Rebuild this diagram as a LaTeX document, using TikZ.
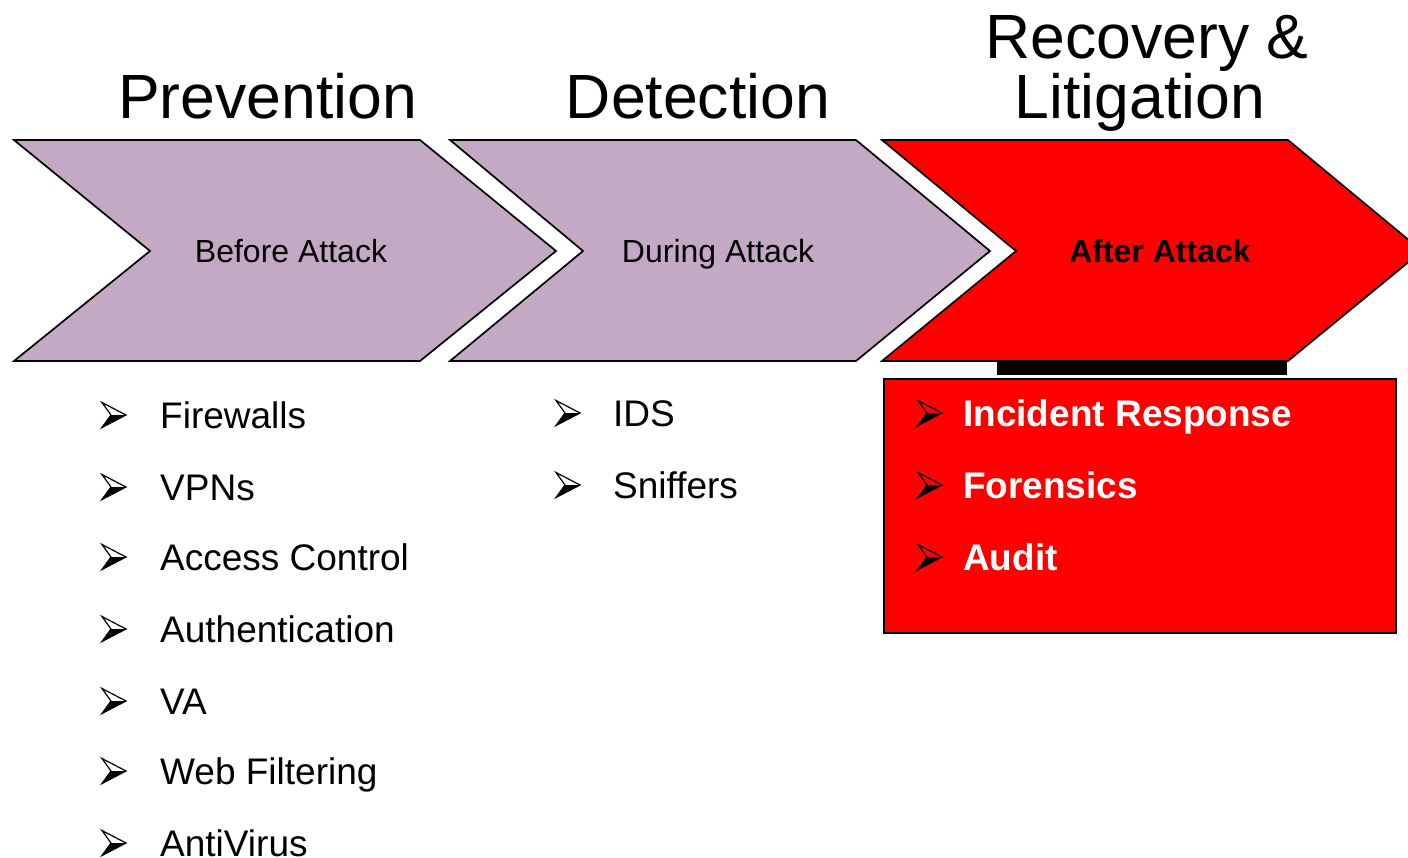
\documentclass[tikz,border=0pt]{standalone}
\usepackage{fontspec}
\setmainfont{Liberation Sans}
\definecolor{lilac}{RGB}{195,169,195}
\definecolor{alarm}{RGB}{255,0,0}
\begin{document}
\begin{tikzpicture}[x=1pt,y=-1pt,
  chev/.style={draw=black,line width=1.7pt,line join=miter},
  heading/.style={anchor=base,inner sep=0pt,font=\fontsize{62.5}{70}\selectfont},
  phase/.style={anchor=base,inner sep=0pt,font=\fontsize{32}{36}\selectfont},
  item/.style={anchor=base west,inner sep=0pt,font=\fontsize{37}{40}\selectfont},
  hotitem/.style={item,text=white,font=\fontsize{37}{40}\selectfont\bfseries},
  bul/.pic={
    \fill[black] (9,0) -- (24,0) -- (0,12.5) -- cycle;
    \draw[line width=1.2pt,line join=miter] (0,-12.5) -- (24,0) -- (0,12.5) -- (9,0) -- cycle;
  }]
\useasboundingbox (0,0) rectangle (1408,857);
\fill[white] (0,0) rectangle (1408,857);

% headings
\node[heading] (hPrev) at (267.5,118) {Prevention};
\node[heading] (hDet)  at (698,118) {Detection};
\node[heading] (hRec)  at (1147,58) {Recovery \&};
\node[heading] (hLit)  at (1140,118) {Litigation};

% phase chevrons
\fill[black] (997,361) rectangle (1287,375);
\path[chev,fill=lilac] (14,140) -- (420,140) -- (556,251) -- (420,361) -- (14,361) -- (150,251) -- cycle;
\path[chev,fill=lilac] (450,140) -- (856,140) -- (990,251) -- (856,361) -- (450,361) -- (583,251) -- cycle;
\path[chev,fill=alarm] (882,140) -- (1288,140) -- (1422,251) -- (1288,361) -- (882,361) -- (1016,251) -- cycle;

\node[phase] (pBefore) at (291,262) {Before Attack};
\node[phase] (pDuring) at (718,262) {During Attack};
\node[phase,font=\fontsize{32}{36}\selectfont\bfseries] (pAfter) at (1160,262) {After Attack};

% prevention measures
\foreach \y/\t [count=\i] in {415/Firewalls,487/VPNs,557/Access Control,629/Authentication,701/VA,771/Web Filtering,843/AntiVirus}{
  \pic at (102,\y) {bul};
  \node[item] (prev\i) at (160,\y+13) {\t};
}

% detection measures
\foreach \y/\t [count=\i] in {413/IDS,485/Sniffers}{
  \pic at (556,\y) {bul};
  \node[item] (det\i) at (613,\y+13) {\t};
}

% recovery measures
\draw[fill=alarm,line width=1.7pt] (884,379) rectangle (1396,633);
\foreach \y/\t [count=\i] in {413/Incident Response,485/Forensics,557/Audit}{
  \pic at (918,\y) {bul};
  \node[hotitem] (rec\i) at (963,\y+13) {\t};
}
\end{tikzpicture}
\end{document}
